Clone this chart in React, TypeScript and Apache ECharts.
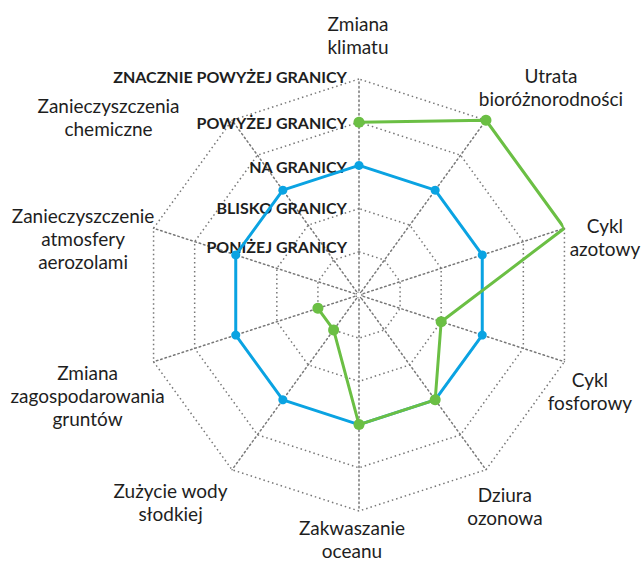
import React, { useEffect, useRef } from "react";
import * as echarts from "echarts";

// Indicators, clockwise from the top
const indicatorNames = [
  "Zmiana\nklimatu",
  "Utrata\nbioróżnorodności",
  "Cykl\nazotowy",
  "Cykl\nfosforowy",
  "Dziura\nozonowa",
  "Zakwaszanie\noceanu",
  "Zużycie wody\nsłodkiej",
  "Zmiana\nzagospodarowania\ngruntów",
  "Zanieczyszczenie\natmosfery\naerozolami",
  "Zanieczyszczenia\nchemiczne",
];

// Level (tick) labels for values 1..5
const levelLabels = [
  "PONIŻEJ GRANICY",
  "BLISKO GRANICY",
  "NA GRANICY",
  "POWYŻEJ GRANICY",
  "ZNACZNIE POWYŻEJ GRANICY",
];

// Series values (0..5), clockwise order
const boundaryValues = [3, 3, 3, 3, 3, 3, 3, 3, 3, 3];
const currentValues: (number | string)[] = [4, 5, 5, 2, 3, 3, 1, 1, "-", "-"];

// Label offsets (padding [top, right, bottom, left]) per indicator, clockwise order
const namePaddings = [
  [0, 2, 0, 0],
  [0, 0, 66, 130],
  [18, 0, 0, 81],
  [58, 0, 0, 51],
  [73, 0, 0, 38],
  [55, 14, 0, 0],
  [64, 123, 0, 0],
  [67, 132, 0, 0],
  [21, 141, 0, 0],
  [0, 247, 6, 0],
];
// small vertical nudges of level labels (padding [top, right, bottom, left])
const levelPaddings = [
  [0, 0, 10, 0],
  [0, 0, 3, 0],
  [2, 0, 0, 0],
  [0, 0, 0, 0],
  [0, 0, 6, 0],
];

const BLUE = "#0aa3e2";
const GREEN = "#6bbf44";
const GRID = "#777777";
const TEXT = "#1e1e1e";

// ECharts radar lays indicators counter-clockwise; reorder to get clockwise
function ccw<T>(arr: T[]): T[] {
  return [arr[0], ...arr.slice(1).reverse()];
}

export default function App() {
  const ref = useRef<HTMLDivElement>(null);
  useEffect(() => {
    if (!ref.current) return;
    const chart = echarts.init(ref.current, null, { renderer: "svg" });
    const CX = 359;
    const CY = 295;
    const R = 216;
    const dotted = { color: GRID, width: 1.5, type: [1.5, 3] as number[] };

    const levelRich: any = {};
    levelPaddings.forEach((p, i) => {
      levelRich["l" + i] = {
        fontFamily: "Lato",
        fontWeight: "bold",
        fontSize: 16,
        color: TEXT,
        padding: p,
      };
    });

    const indicators = indicatorNames.map((name, i) => {
      const ind: any = {
        name,
        min: 0,
        max: 5,
        nameTextStyle: { padding: namePaddings[i] },
      };
      if (i === 0) {
        ind.nameGap = 21;
        ind.nameMoveOverlap = false;
        ind.nameTextStyle = { padding: namePaddings[i], verticalAlign: "bottom" };
        ind.axisLabel = {
          show: true,
          margin: 12,
          fontFamily: "Lato",
          fontWeight: "bold",
          fontSize: 16,
          color: TEXT,
          showMinLabel: false,
          formatter: (v: number) => {
            const k = Math.round(v) - 1;
            return k >= 0 && k < levelLabels.length ? "{l" + k + "|" + levelLabels[k] + "}" : "";
          },
          rich: levelRich,
        };
      }
      return ind;
    });

    chart.setOption({
      animation: false,
      backgroundColor: "#ffffff",
      radar: {
        center: [CX, CY],
        radius: R,
        startAngle: 90,
        shape: "polygon",
        splitNumber: 5,
        nameGap: 0,
        indicator: ccw(indicators),
        axisName: {
          color: TEXT,
          fontFamily: "Lato",
          fontSize: 19,
          lineHeight: 23,
          align: "center",
          verticalAlign: "middle",
          formatter: (name: string) =>
            name
              .split("\n")
              .map((l) => "{c|" + l + "}")
              .join("\n"),
          rich: {
            c: {
              align: "center",
              fontFamily: "Lato",
              fontSize: 19,
              lineHeight: 23,
              color: TEXT,
            },
          },
        },
        splitLine: { lineStyle: dotted },
        splitArea: { show: false },
        axisLine: { lineStyle: dotted },
        axisTick: { show: false },
        axisLabel: { show: false },
      },
      polar: { center: [CX, CY], radius: R },
      angleAxis: {
        type: "category",
        data: indicatorNames,
        startAngle: 90,
        clockwise: true,
        boundaryGap: false,
        show: false,
      },
      radiusAxis: { type: "value", min: 0, max: 5, show: false },
      graphic: [
        {
          type: "circle",
          shape: { cx: CX, cy: CY, r: 3 },
          style: { fill: "#fff", stroke: GRID, lineWidth: 1.2, lineDash: [1.2, 1.2] },
          z: 10,
        },
      ],
      series: [
        {
          type: "radar",
          symbol: "circle",
          symbolSize: 9,
          lineStyle: { color: BLUE, width: 3 },
          itemStyle: { color: BLUE },
          data: [{ value: ccw(boundaryValues), name: "Granica" }],
          z: 2,
        },
        {
          type: "line",
          coordinateSystem: "polar",
          symbol: "circle",
          symbolSize: 11,
          showSymbol: true,
          connectNulls: false,
          lineStyle: { color: GREEN, width: 3 },
          itemStyle: { color: GREEN },
          data: currentValues,
          z: 3,
        },
      ],
    });
    return () => chart.dispose();
  }, []);
  return (
    <div
      ref={ref}
      style={{ position: "fixed", left: 0, top: 0, width: 643, height: 561, background: "#fff" }}
    />
  );
}
